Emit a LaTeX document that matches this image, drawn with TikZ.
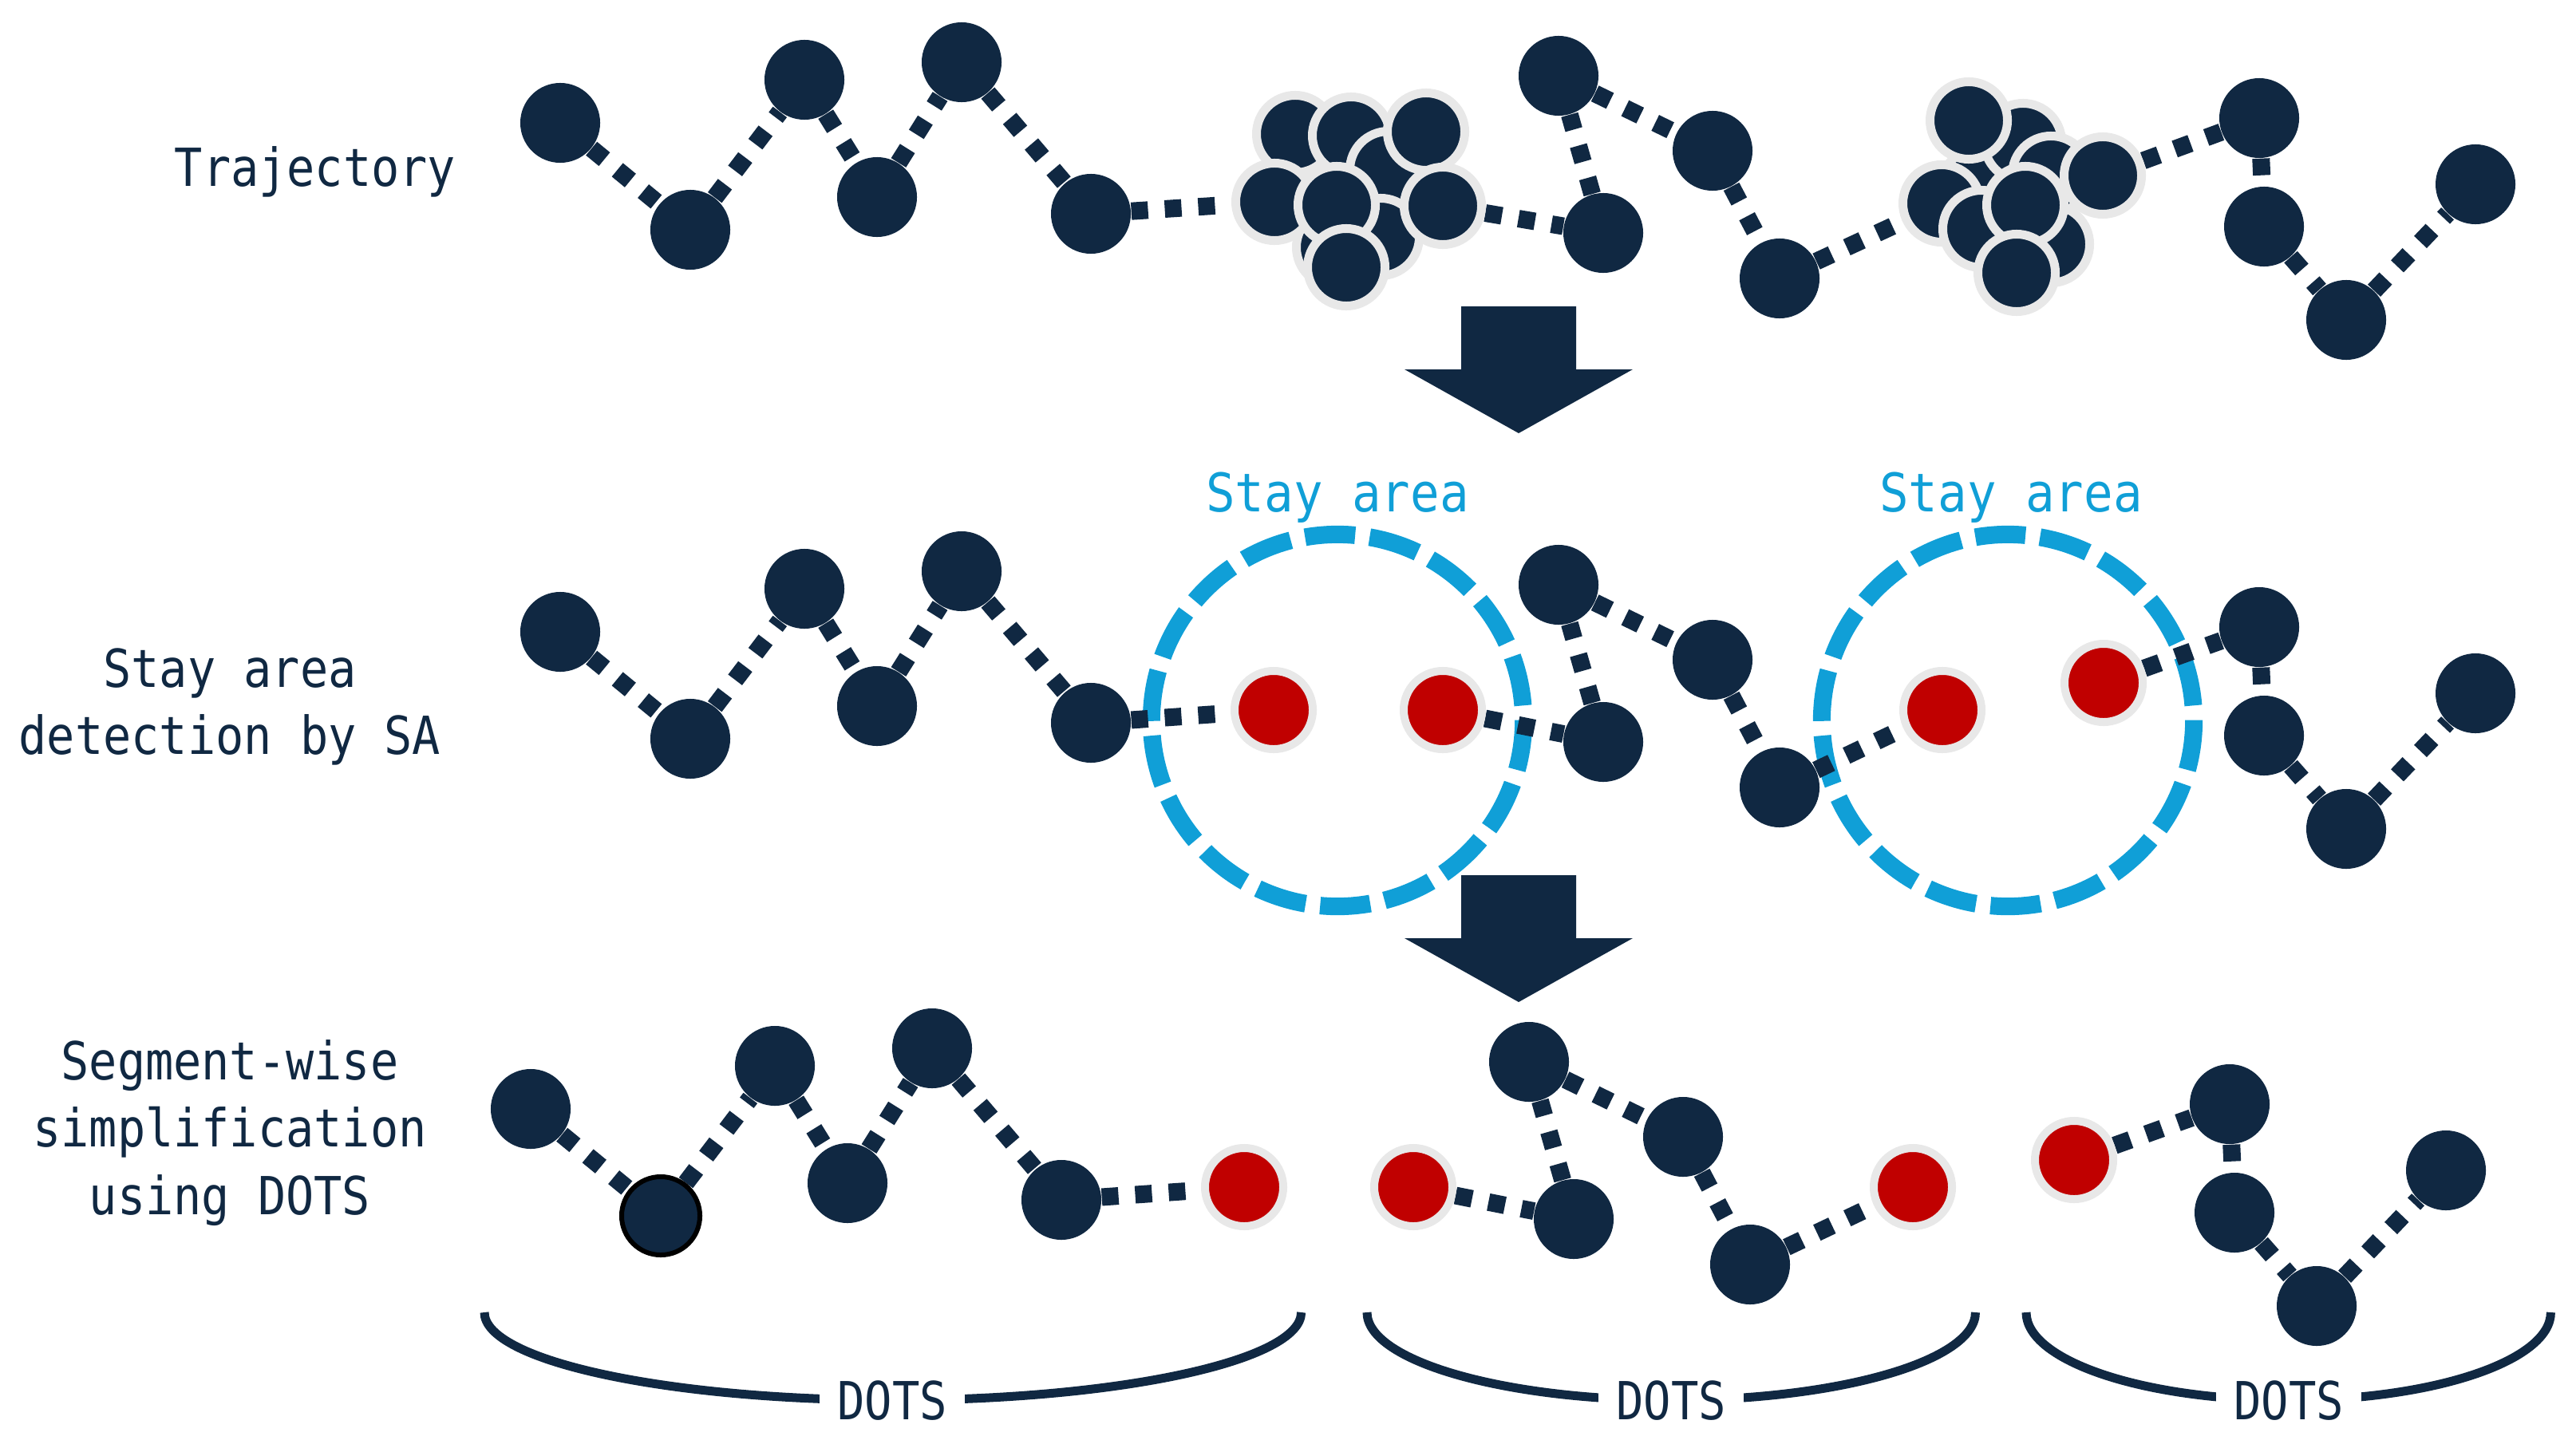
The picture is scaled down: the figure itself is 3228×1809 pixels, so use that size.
\documentclass[tikz,border=0pt]{standalone}
\usepackage{fontspec}
\usetikzlibrary{backgrounds}
\newfontfamily\trajfont[FakeStretch=0.89]{DejaVu Sans Mono}
\newfontfamily\stayfont[FakeStretch=0.91]{DejaVu Sans Mono}
\newfontfamily\dotsfont[FakeStretch=0.87]{DejaVu Sans Mono}
\definecolor{navy}{RGB}{16,40,66}
\definecolor{stayblue}{RGB}{16,159,215}
\definecolor{redc}{RGB}{192,0,0}
\definecolor{ringgray}{RGB}{232,232,232}
\tikzset{
  pt/.style={circle, fill=navy, minimum size=1.0cm, inner sep=0pt},
  cl/.style={circle, fill=navy, draw=ringgray, line width=0.11cm, minimum size=0.97cm, inner sep=0pt},
  rd/.style={circle, fill=redc, draw=ringgray, line width=0.10cm, minimum size=0.98cm, inner sep=0pt},
  blk/.style={circle, fill=navy, draw=black, line width=0.06cm, minimum size=0.98cm, inner sep=0pt},
  conn/.style={draw=navy, line width=0.22cm, dash pattern=on 0.21cm off 0.21cm},
  staycirc/.style={draw=stayblue, line width=0.22cm, dash pattern=on 0.63cm off 0.183cm},
  brk/.style={draw=navy, line width=0.11cm},
  txt/.style={text=navy, inner sep=0pt, anchor=base},
  lblf/.style={font=\trajfont\fontsize{18.7pt}{22pt}\selectfont},
  dotslbl/.style={text=navy, fill=white, inner xsep=0.22cm, inner ysep=0.05cm, anchor=base,
    font=\dotsfont\fontsize{18.7pt}{22pt}\selectfont},
  bigarrow/.style={fill=navy}
}
\begin{document}
\begin{tikzpicture}[x=0.01cm, y=-0.01cm]
\useasboundingbox (0,0) rectangle (3228,1809);

% ---------- labels ----------
\node[txt, lblf] (ltraj) at (395,233) {Trajectory};
\node[txt, lblf] (lsa1) at (288,861) {Stay area};
\node[txt, lblf] (lsa2) at (288,945) {detection by SA};
\node[txt, lblf] (lsw1) at (288,1353) {Segment-wise};
\node[txt, lblf] (lsw2) at (288,1437) {simplification};
\node[txt, lblf] (lsw3) at (288,1522) {using DOTS};

% ---------- regular points, rows 1-3 ----------
\foreach \n/\x/\y in {a1/702/154, a2/865/288, a3/1008/100, a4/1099/247, a5/1205/78, a6/1367/268,
                      b1/1953/95, b2/2009/292, b3/2146/189, b4/2230/349,
                      c1/2831/148, c2/2837/284, c3/2940/401, c4/3102/231}{
  \node[pt] (\n) at (\x,\y) {};
  \node[pt] (r2\n) at (\x,\y+638) {};
}
\foreach \n/\x/\y in {a1/702/154, a3/1008/100, a4/1099/247, a5/1205/78, a6/1367/268,
                      b1/1953/95, b2/2009/292, b3/2146/189, b4/2230/349,
                      c1/2831/148, c2/2837/284, c3/2940/401, c4/3102/231}{
  \node[pt] (r3\n) at (\x-37,\y+1236) {};
}
\node[blk] (r3a2) at (828,1524) {};

% ---------- clusters in row 1 ----------
\foreach \n/\x/\y in {k1/1623/168, k2/1693/170, k3/1740/213, k4/1787/165, k5/1673/310,
                      k6/1730/297, k7/1597/253, k8/1675/257, k9/1808/258, k10/1687/335}{
  \node[cl] (\n) at (\x,\y) {};
}
\foreach \n/\x/\y in {m1/2480/235, m2/2535/178, m3/2467/151, m4/2570/219, m5/2635/220,
                      m6/2433/255, m7/2483/287, m8/2570/306, m9/2538/257, m10/2527/342}{
  \node[cl] (\n) at (\x,\y) {};
}

% ---------- red stay points ----------
\node[rd] (s1) at (1596,890) {};
\node[rd] (s2) at (1808,890) {};
\node[rd] (s3) at (2434,890) {};
\node[rd] (s4) at (2636,856) {};
\node[rd] (t1) at (1559,1488) {};
\node[rd] (t2) at (1771,1488) {};
\node[rd] (t3) at (2397,1488) {};
\node[rd] (t4) at (2599,1454) {};

% ---------- stay areas ----------
\coordinate (stay1) at (1676,903);
\coordinate (stay2) at (2516,903);
\node[txt, text=stayblue, font=\stayfont\fontsize{19pt}{22pt}\selectfont] (lstay1) at (1676,641) {Stay area};
\node[txt, text=stayblue, font=\stayfont\fontsize{19pt}{22pt}\selectfont] (lstay2) at (2520,641) {Stay area};

\begin{scope}[on background layer]
  \draw[staycirc] (stay1) ++(-2.33cm,0) arc[start angle=180, end angle=-180, radius=2.33cm];
  \draw[staycirc] (stay2) ++(-2.33cm,0) arc[start angle=180, end angle=-180, radius=2.33cm];
  % row 1
  \draw[conn] (a1) -- (a2);
  \draw[conn] (a2) -- (a3);
  \draw[conn] (a3) -- (a4);
  \draw[conn] (a4) -- (a5);
  \draw[conn] (a5) -- (a6);
  \draw[conn] (a6) -- (k7);
  \draw[conn] (k9) -- (b2);
  \draw[conn] (b2) -- (b1);
  \draw[conn] (b1) -- (b3);
  \draw[conn] (b3) -- (b4);
  \draw[conn] (b4) -- (m6);
  \draw[conn] (m5) -- (c1);
  \draw[conn] (c1) -- (c2);
  \draw[conn] (c2) -- (c3);
  \draw[conn] (c3) -- (c4);
  % row 2
  \draw[conn] (r2a1) -- (r2a2);
  \draw[conn] (r2a2) -- (r2a3);
  \draw[conn] (r2a3) -- (r2a4);
  \draw[conn] (r2a4) -- (r2a5);
  \draw[conn] (r2a5) -- (r2a6);
  \draw[conn] (r2a6) -- (s1);
  \draw[conn] (s2) -- (r2b2);
  \draw[conn] (r2b2) -- (r2b1);
  \draw[conn] (r2b1) -- (r2b3);
  \draw[conn] (r2b3) -- (r2b4);
  \draw[conn] (r2b4) -- (s3);
  \draw[conn] (s4) -- (r2c1);
  \draw[conn] (r2c1) -- (r2c2);
  \draw[conn] (r2c2) -- (r2c3);
  \draw[conn] (r2c3) -- (r2c4);
  % row 3
  \draw[conn] (r3a1) -- (r3a2);
  \draw[conn] (r3a2) -- (r3a3);
  \draw[conn] (r3a3) -- (r3a4);
  \draw[conn] (r3a4) -- (r3a5);
  \draw[conn] (r3a5) -- (r3a6);
  \draw[conn] (r3a6) -- (t1);
  \draw[conn] (t2) -- (r3b2);
  \draw[conn] (r3b2) -- (r3b1);
  \draw[conn] (r3b1) -- (r3b3);
  \draw[conn] (r3b3) -- (r3b4);
  \draw[conn] (r3b4) -- (t3);
  \draw[conn] (t4) -- (r3c1);
  \draw[conn] (r3c1) -- (r3c2);
  \draw[conn] (r3c2) -- (r3c3);
  \draw[conn] (r3c3) -- (r3c4);
\end{scope}

% ---------- block arrows ----------
\fill[bigarrow] (1831,384) -- (1975,384) -- (1975,463) -- (2046,463) -- (1903,543)
  -- (1760,463) -- (1831,463) -- cycle;
\fill[bigarrow] (1831,1097) -- (1975,1097) -- (1975,1176) -- (2046,1176) -- (1903,1256)
  -- (1760,1176) -- (1831,1176) -- cycle;

% ---------- DOTS brackets ----------
\draw[brk] (607,1645) arc[start angle=180, end angle=360, x radius=5.115cm, y radius=1.10cm];
\draw[brk] (1713,1645) arc[start angle=180, end angle=360, x radius=3.81cm, y radius=1.10cm];
\draw[brk] (2539,1645) arc[start angle=180, end angle=360, x radius=3.285cm, y radius=1.10cm];
\node[dotslbl] (dots1) at (1118,1779) {DOTS};
\node[dotslbl] (dots2) at (2094,1779) {DOTS};
\node[dotslbl] (dots3) at (2868,1779) {DOTS};
\end{tikzpicture}
\end{document}
